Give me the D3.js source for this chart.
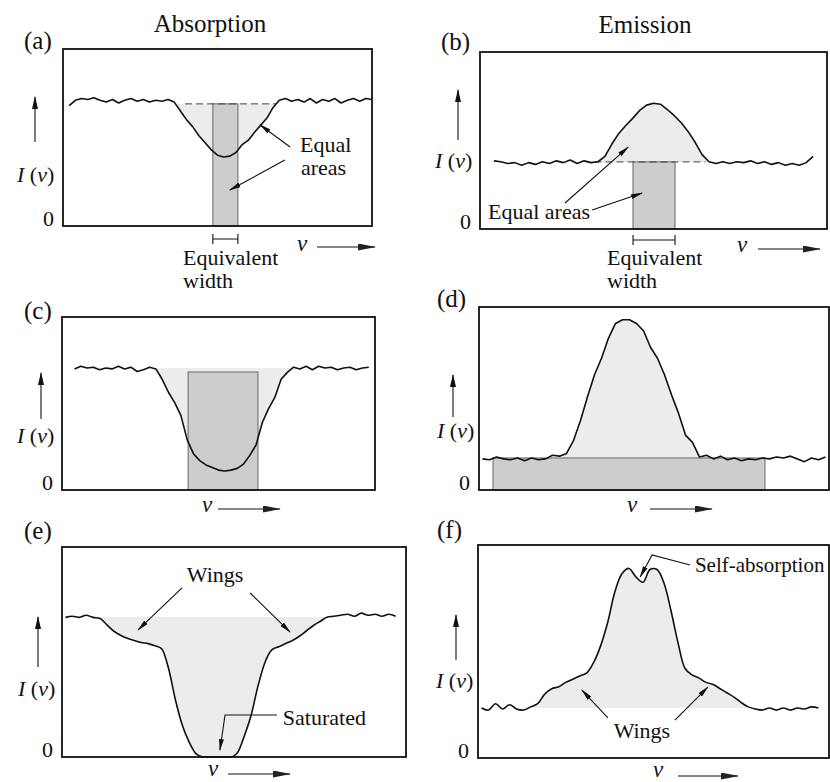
<!DOCTYPE html>
<html>
<head>
<meta charset="utf-8">
<script src="https://cdn.jsdelivr.net/npm/d3@7"></script>
<style>
  body { margin: 0; background: #fff; }
</style>
</head>
<body>
<div id="chart"></div>
<script>
var W = 830, H = 782;
var serif = "'Liberation Serif', 'DejaVu Serif', 'Times New Roman', Times, serif";

// each profile: intensity (% of panel height) sampled every 2 units of nu (% of panel width)
var step = 2;
var profileA = [68, 71, 72, 71.5, 72.5, 71, 70, 71.5, 69.5, 71, 72, 70.5, 71.5, 70, 71, 70.5, 71.5, 70,
    65, 60, 56, 51, 47, 43, 40, 39, 39.5, 41.5, 46, 48.5, 53, 57, 61, 67, 71,
    72, 70.5, 71.5, 70, 72, 69.5, 71.5, 70.5, 72, 69.5, 71, 72, 70.5, 72, 71.5];
var profileB = [38.5, 38, 37, 37.5, 36, 37.5, 36.5, 38, 37, 38.5, 37.5, 39, 37, 38.5, 37.5, 38,
    41, 48, 54, 58.5, 62.5, 67, 70, 71, 70.5, 67.5, 64, 60, 55, 49, 42, 38,
    37, 38, 37, 38, 37.5, 38.5, 37, 38, 36.5, 37.5, 36, 37, 36, 37.5, 41];
var profileC = [70, 71.5, 70.5, 71, 69.5, 70.5, 70, 71.5, 70, 71, 68.5, 69.5, 71, 70,
    64, 56.5, 50.5, 43, 29, 21, 17, 14.5, 13, 11.5, 11, 11.5, 12.5, 15, 20, 26, 39, 47, 53.5, 64, 68,
    71, 70, 71.5, 69.5, 71.5, 70.5, 71, 69.5, 70.5, 71, 69.5, 70.5, 71];
var profileD = [17, 16.5, 18, 17, 16.5, 17.5, 16, 17.5, 16.5, 17, 19,
    18.5, 20, 27, 38, 51, 63, 72, 83, 91, 93, 93, 91, 87, 78, 72, 63, 52, 42, 30, 26, 18,
    19, 17, 18.5, 16.5, 17.5, 16, 17, 16.5, 17.5, 17, 18, 17.5, 18.5, 17, 15.5, 17.5, 16.5, 18];
var profileE = [66.5, 67, 66.5, 67.5, 66.5, 66, 63, 60, 58, 56.5, 55.5, 54.5, 54, 53, 51.5,
    42, 27, 15, 7, 1.5, 0, 0, 0, 0, 0, 2, 10, 20, 34, 45, 51,
    52.5, 54, 55.5, 57.5, 60, 62.5, 64.5, 66.5, 67, 67.5, 68, 67, 68.5, 67.5, 68, 67, 68, 67];
var profileF = [23.5, 22.5, 25.5, 23, 25, 23, 22.5, 24, 25.5, 30, 32.5, 33.5, 35.5, 37, 38.5, 40,
    45, 53, 64, 78, 86.5, 89, 85, 82.5, 88.5, 88.5, 82, 69, 54, 42, 39,
    37.5, 35.5, 34.5, 32.5, 30.5, 28.5, 26, 24, 23, 22.5, 23.5, 22.5, 23.5, 22.5, 23.5, 23, 24, 23.5];

// continuum levels and equivalent-width boxes [nu from, nu to, height]
var continuum = { a: 69, b: 37.9, c: 70.5, d: 17.5, e: 66.7, f: 23.5 };
var eqWidth = { a: [48.5, 56.6, 69], b: [44.1, 56.2, 37.9], c: [40.3, 62.6, 68.2], d: [4, 81.7, 17.5] };

var panels = [
    { id: "a", box: [63, 49, 372, 226], nu0: 2, values: profileA, fill: [36, 70], dashed: [39.5, 69],
      tag: [24, 49], yArrow: [35, 142, 97], yLab: [17, 182], nuLab: [297, 251, 317, 375, 247] },
    { id: "b", box: [480, 52, 827, 229], nu0: 4, values: profileB, fill: [34, 66], dashed: [33, 65],
      tag: [441, 50], yArrow: [458, 140, 90], yLab: [435, 168], nuLab: [737, 252, 758, 820, 249] },
    { id: "c", box: [62, 317, 375, 490], nu0: 4, values: profileC, fill: [30, 74],
      tag: [24, 319], yArrow: [41, 419, 373], yLab: [17, 443], nuLab: [202, 512, 218, 280, 509] },
    { id: "d", box: [479, 307, 829, 490], nu0: 1, values: profileD, fill: [23, 65],
      tag: [437, 307], yArrow: [453, 417, 375], yLab: [437, 438], nuLab: [627, 512, 650, 712, 509] },
    { id: "e", box: [62, 547, 406, 757], nu0: 1, values: profileE, fill: [11, 79], curve: d3.curveMonotoneX,
      tag: [24, 539], yArrow: [38, 667, 617], yLab: [18, 696], nuLab: [208, 776, 228, 290, 774] },
    { id: "f", box: [478, 545, 829, 758], nu0: 1, values: profileF, fill: [15, 81], curve: d3.curveCatmullRom,
      tag: [437, 538], yArrow: [456, 660, 615], yLab: [436, 688], nuLab: [653, 777, 678, 738, 776] }
];

var svg = d3.select("#chart").append("svg")
    .attr("width", W)
    .attr("height", H)
    .style("font-family", serif);

var defs = svg.append("defs");
function marker(id, w, h, color) {
    defs.append("marker")
        .attr("id", id)
        .attr("viewBox", "0 0 " + w + " " + h)
        .attr("refX", w - 1)
        .attr("refY", h / 2)
        .attr("markerWidth", w)
        .attr("markerHeight", h)
        .attr("markerUnits", "userSpaceOnUse")
        .attr("orient", "auto")
        .append("path")
        .attr("d", "M0,0L" + w + "," + (h / 2) + "L0," + h + "Z")
        .attr("fill", color);
}
marker("head", 12, 5, "#111");
marker("yhead", 13, 6, "#111");
marker("nuhead", 18, 7, "#222");

function arrow(g, pts, mk) {
    g.append("path")
        .attr("d", d3.line()(pts))
        .attr("fill", "none")
        .attr("stroke", "#111")
        .attr("stroke-width", 1.1)
        .attr("marker-end", "url(#" + mk + ")");
}

function label(g, txt, px, py, anchor, size) {
    return g.append("text")
        .attr("x", px)
        .attr("y", py)
        .attr("text-anchor", anchor || "start")
        .style("font-family", serif)
        .style("font-size", (size || 21) + "px")
        .attr("fill", "#111")
        .text(txt);
}

function bracket(g, x1, x2, yy) {
    g.append("path")
        .attr("d", "M" + x1 + "," + (yy - 5) + "V" + (yy + 5) + "M" + x1 + "," + yy + "H" + x2 +
            "M" + x2 + "," + (yy - 5) + "V" + (yy + 5))
        .attr("fill", "none")
        .attr("stroke", "#111")
        .attr("stroke-width", 1.1);
}

var scales = {};

panels.forEach(function (p) {
    var x = d3.scaleLinear().domain([0, 100]).range([p.box[0], p.box[2]]);
    var y = d3.scaleLinear().domain([0, 100]).range([p.box[3], p.box[1]]);
    scales[p.id] = { x: x, y: y };
    var cont = continuum[p.id];
    var g = svg.append("g").attr("class", "panel-" + p.id);

    var pts = p.values.map(function (v, i) {
        return { nu: p.nu0 + i * step, I: v };
    });
    var curve = p.curve || d3.curveLinear;

    // light fill between continuum and line
    var inside = pts.filter(function (d) { return d.nu >= p.fill[0] && d.nu <= p.fill[1]; });
    g.append("path")
        .datum(inside)
        .attr("d", d3.area()
            .x(function (d) { return x(d.nu); })
            .y0(y(cont))
            .y1(function (d) { return y(d.I); })
            .curve(curve))
        .attr("fill", "#ececec");

    // equivalent width box
    var eq = eqWidth[p.id];
    if (eq) {
        g.append("rect")
            .attr("x", x(eq[0]))
            .attr("y", y(eq[2]))
            .attr("width", x(eq[1]) - x(eq[0]))
            .attr("height", y(0) - y(eq[2]))
            .attr("fill", "#cdcdcd")
            .attr("stroke", "#7a7a7a")
            .attr("stroke-width", 1.2);
    }

    if (p.dashed) {
        g.append("line")
            .attr("x1", x(p.dashed[0]))
            .attr("x2", x(p.dashed[1]))
            .attr("y1", y(cont))
            .attr("y2", y(cont))
            .attr("stroke", "#444")
            .attr("stroke-width", 1)
            .attr("stroke-dasharray", "7,4");
    }

    // spectrum line
    g.append("path")
        .datum(pts)
        .attr("d", d3.line()
            .x(function (d) { return x(d.nu); })
            .y(function (d) { return y(d.I); })
            .curve(curve))
        .attr("fill", "none")
        .attr("stroke", "#111")
        .attr("stroke-width", 1.6)
        .attr("stroke-linejoin", "round");

    // frame
    g.append("rect")
        .attr("x", p.box[0])
        .attr("y", p.box[1])
        .attr("width", p.box[2] - p.box[0])
        .attr("height", p.box[3] - p.box[1])
        .attr("fill", "none")
        .attr("stroke", "#111")
        .attr("stroke-width", 1.8);

    // zero tick
    var yAxis = d3.axisLeft(y).tickValues([0]).tickSize(0).tickPadding(9).tickFormat(d3.format("d"));
    var gY = g.append("g")
        .attr("transform", "translate(" + p.box[0] + ",0)")
        .call(yAxis)
        .attr("font-family", serif);
    gY.select(".domain").remove();
    gY.selectAll("text")
        .attr("dy", "-0.02em")
        .style("font-family", serif)
        .style("font-size", "22px")
        .attr("fill", "#111");

    // tag
    label(g, "(" + p.id + ")", p.tag[0], p.tag[1], "start", 25);

    // intensity axis arrow and label
    arrow(g, [[p.yArrow[0], p.yArrow[1]], [p.yArrow[0], p.yArrow[2]]], "yhead");
    var yl = label(g, "", p.yLab[0], p.yLab[1], "start", 22);
    yl.append("tspan").style("font-style", "italic").text("I");
    yl.append("tspan").text(" (");
    yl.append("tspan").style("font-style", "italic").text("ν");
    yl.append("tspan").text(")");

    // frequency label
    label(g, "ν", p.nuLab[0], p.nuLab[1], "start", 23).style("font-style", "italic");
    arrow(g, [[p.nuLab[2], p.nuLab[4]], [p.nuLab[3], p.nuLab[4]]], "nuhead");
});

// column titles
label(svg, "Absorption", 210, 32, "middle", 25);
label(svg, "Emission", 645, 33, "middle", 25);

// (a) annotations
(function () {
    var x = scales.a.x, y = scales.a.y, g = svg.append("g");
    arrow(g, [[x(73.5), y(44.6)], [x(63.8), y(57.1)]], "head");
    arrow(g, [[x(71.8), y(37.3)], [x(54), y(20.3)]], "head");
    label(g, "Equal", x(76.7), y(41.8), "start", 22);
    label(g, "areas", x(77), y(28.8), "start", 22);
    var eq = eqWidth.a;
    bracket(g, x(eq[0]), x(eq[1]), 239);
    label(g, "Equivalent", 183, 265, "start", 22);
    label(g, "width", 183, 288, "start", 22);
})();

// (b) annotations
(function () {
    var x = scales.b.x, y = scales.b.y, g = svg.append("g");
    arrow(g, [[x(24.5), y(14.7)], [x(42.7), y(46.3)]], "head");
    arrow(g, [[x(32.3), y(10.7)], [x(46.7), y(20.3)]], "head");
    label(g, "Equal areas", x(2.3), y(5.6), "start", 22);
    var eq = eqWidth.b;
    bracket(g, x(eq[0]), x(eq[1]), 240);
    label(g, "Equivalent", 607, 265, "start", 22);
    label(g, "width", 607, 288, "start", 22);
})();

// (e) annotations
(function () {
    var x = scales.e.x, y = scales.e.y, g = svg.append("g");
    label(g, "Wings", x(44.5), y(83.3), "middle", 22);
    arrow(g, [[x(34.9), y(80.5)], [x(22.1), y(60.5)]], "head");
    arrow(g, [[x(54.7), y(78.1)], [x(66.3), y(59.5)]], "head");
    label(g, "Saturated", x(64.2), y(15.2), "start", 22);
    arrow(g, [[x(62.5), y(20)], [x(47.4), y(20)], [x(45.9), y(3.3)]], "head");
})();

// (f) annotations
(function () {
    var x = scales.f.x, y = scales.f.y, g = svg.append("g");
    label(g, "Self-absorption", x(61.8), y(87.3), "start", 21);
    arrow(g, [[x(60.4), y(90.6)], [x(49.6), y(95.3)], [x(46.2), y(85)]], "head");
    label(g, "Wings", x(46.7), y(9.4), "middle", 22);
    arrow(g, [[x(37), y(18.8)], [x(29.6), y(31.9)]], "head");
    arrow(g, [[x(56.1), y(17.8)], [x(65.5), y(33.3)]], "head");
})();
</script>
</body>
</html>
